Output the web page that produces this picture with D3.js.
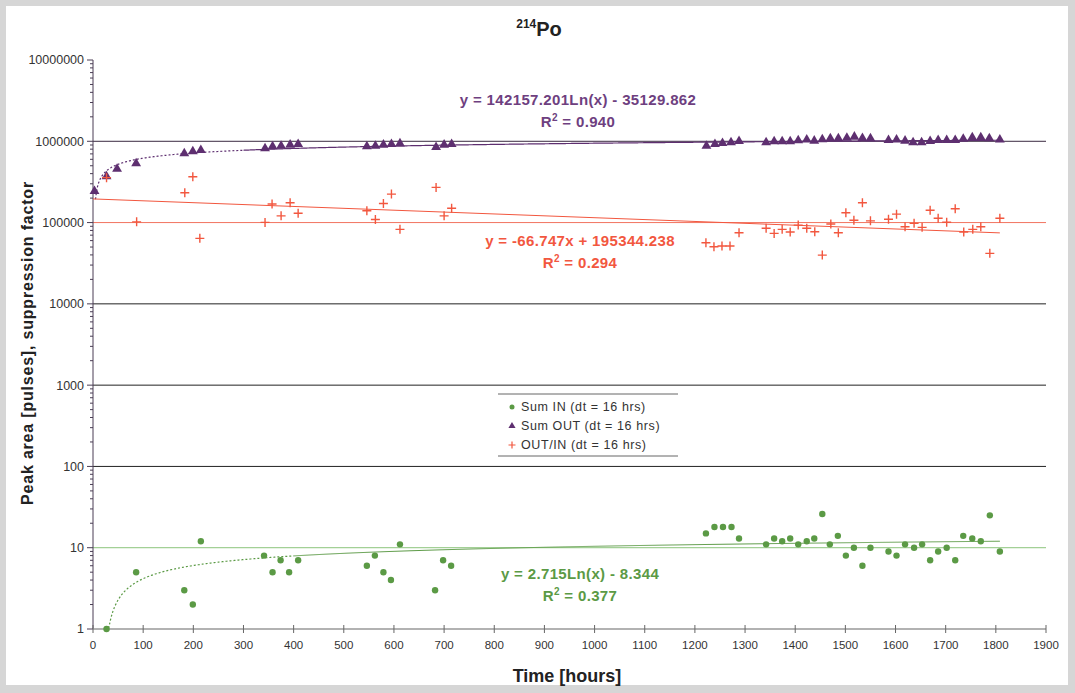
<!DOCTYPE html>
<html>
<head>
<meta charset="utf-8">
<script src="https://cdn.jsdelivr.net/npm/d3@7"></script>
<style>
  body { margin: 0; background: #fff; }
  svg text { font-family: "Liberation Sans", Arial, sans-serif; }
</style>
</head>
<body>
<svg id="chart" width="1075" height="693"></svg>
<script>
// Sum OUT (dt = 16 hrs)
const outX = [3, 27, 48, 86, 182, 199, 215, 343, 358, 375, 393, 409, 546, 563, 579, 595, 612, 684, 700, 715,
  1223, 1240, 1255, 1272, 1288, 1342, 1358, 1374, 1390, 1406, 1423, 1438, 1454, 1470, 1486, 1503, 1518, 1534, 1550,
  1586, 1602, 1619, 1635, 1652, 1669, 1685, 1702, 1719, 1735, 1753, 1770, 1787, 1808];
const outY = [237000, 360000, 443000, 520000, 690000, 730000, 757000, 795000, 840000, 855000, 880000, 898000,
  840000, 850000, 880000, 898000, 912000, 825000, 880000, 898000,
  855000, 898000, 923000, 942000, 977000, 942000, 968000, 968000, 968000, 994000, 1015000, 986000, 1022000, 1052000,
  1052000, 1072000, 1104000, 1064000, 1052000, 1005000, 1015000, 986000, 942000, 942000, 977000, 1005000, 1005000,
  1005000, 1042000, 1084000, 1084000, 1052000, 1015000];

// OUT/IN (dt = 16 hrs)
const ratioX = [27, 87, 183, 199, 213, 343, 357, 375, 393, 409, 546, 563, 579, 595, 612, 684, 700, 715,
  1222, 1238, 1254, 1270, 1288, 1342, 1358, 1374, 1390, 1406, 1423, 1439, 1454, 1471, 1486, 1501, 1517, 1534, 1550,
  1586, 1602, 1619, 1637, 1653, 1669, 1685, 1702, 1719, 1736, 1754, 1770, 1788, 1808];
const ratioY = [357000, 102000, 233000, 366000, 64000, 100500, 169000, 121000, 175000, 130000, 140000, 109000,
  172000, 224000, 82500, 271000, 121000, 150000,
  56400, 50400, 51400, 51400, 75000, 85000, 73600, 82500, 76400, 93100, 85000, 77000, 39800, 95900, 75000,
  132000, 107000, 175000, 105000, 110000, 127000, 88900, 97800, 87300, 142000, 113000, 101000, 148000,
  76400, 82500, 88900, 41800, 113000];

// Sum IN (dt = 16 hrs)
const inX = [27, 86, 182, 199, 215, 341, 358, 374, 391, 409, 546, 562, 579, 594, 612, 682, 698, 714,
  1222, 1239, 1256, 1273, 1288, 1342, 1358, 1374, 1390, 1406, 1423, 1438, 1454, 1469, 1485, 1501, 1517, 1534, 1550,
  1586, 1602, 1619, 1637, 1653, 1669, 1685, 1702, 1719, 1735, 1753, 1770, 1788, 1808];
const inY = [1, 5, 3, 2, 12, 8, 5, 7, 5, 7, 6, 8, 5, 4, 11, 3, 7, 6,
  15, 18, 18, 18, 13, 11, 13, 12, 13, 11, 12, 13, 26, 11, 14, 8, 10, 6, 10,
  9, 8, 11, 10, 11, 7, 9, 10, 7, 14, 13, 12, 25, 9];

// trendline coefficients as printed on the chart
const outFit = [142157.201, -35129.862];
const ratioFit = [-66.747, 195344.238];
const inFit = [2.715, -8.344];

const xTicks = d3.range(0, 2000, 100);
const yTicks = [1, 10, 100, 1000, 10000, 100000, 1000000, 10000000];
const legendLabels = ["Sum IN (dt = 16 hrs)", "Sum OUT (dt = 16 hrs)", "OUT/IN (dt = 16 hrs)"];

const purple = "#5e2f70", red = "#f2573f", green = "#5b9a45";

const svg = d3.select("#chart");
const W = 1075, H = 693;

// frame
svg.append("rect").attr("width", W).attr("height", H).attr("fill", "#d6d6d6");
svg.append("rect").attr("x", 6).attr("y", 6).attr("width", W - 13).attr("height", H - 14).attr("fill", "#fff");

const x = d3.scaleLinear().domain([0, 1900]).range([93, 1046]);
const y = d3.scaleLog().domain([1, 10000000]).range([629, 60]);

// horizontal grid lines
const gridColor = {10: "#8cc47c", 100000: "#f2745f", 1000000: "#3a2a40"};
svg.append("g").selectAll("line")
  .data(yTicks.filter(d => d > 1 && d < 10000000))
  .join("line")
    .attr("x1", x(0)).attr("x2", x(1900))
    .attr("y1", d => y(d)).attr("y2", d => y(d))
    .attr("stroke", d => gridColor[d] || "#222")
    .attr("stroke-width", 1);

// y axis
const yAxis = svg.append("g").attr("transform", `translate(${x(0)},0)`);
yAxis.append("line").attr("y1", y(1)).attr("y2", y(10000000)).attr("stroke", "#4a3d55");
const minor = [];
yTicks.slice(0, -1).forEach(d => { for (let k = 2; k < 10; k++) minor.push(d * k); });
yAxis.selectAll(".minor").data(minor).join("line")
  .attr("x1", -3).attr("x2", 0)
  .attr("y1", d => y(d)).attr("y2", d => y(d))
  .attr("stroke", "#4a3d55");
yAxis.selectAll(".major").data(yTicks).join("line")
  .attr("x1", -6).attr("x2", 0)
  .attr("y1", d => y(d)).attr("y2", d => y(d))
  .attr("stroke", "#4a3d55");
yAxis.selectAll("text").data(yTicks).join("text")
  .attr("x", -9).attr("y", d => y(d)).attr("dy", "0.35em")
  .attr("text-anchor", "end")
  .attr("font-size", 12.5).attr("fill", "#333")
  .text(d => d);

// x axis
const xAxis = svg.append("g").attr("transform", `translate(0,${y(1)})`);
xAxis.append("line").attr("x1", x(0)).attr("x2", x(1900)).attr("stroke", "#999").attr("stroke-width", 1.5);
xAxis.selectAll(".tk").data(xTicks).join("line")
  .attr("x1", d => x(d)).attr("x2", d => x(d))
  .attr("y1", -4).attr("y2", 4)
  .attr("stroke", "#666");
xAxis.selectAll("text").data(xTicks).join("text")
  .attr("x", d => x(d)).attr("y", 20)
  .attr("text-anchor", "middle")
  .attr("font-size", 11.5).attr("fill", "#333")
  .attr("font-family", "'Liberation Sans Narrow', 'Liberation Sans', sans-serif")
  .text(d => d);

// trendlines (early part drawn dotted like the source rendering)
const sample = (a, b) => d3.range(a, b + 0.5, 2);
const lnLine = d3.line().x(d => x(d[0])).y(d => y(d[1]));
const outCurve = t => [t, outFit[0] * Math.log(t) + outFit[1]];

svg.append("path")
  .datum(sample(5, 300).map(outCurve))
  .attr("d", lnLine).attr("fill", "none").attr("stroke", purple).attr("stroke-width", 1.2)
  .attr("stroke-dasharray", "2,2");
svg.append("path")
  .datum(sample(300, 1808).map(outCurve))
  .attr("d", lnLine).attr("fill", "none").attr("stroke", purple).attr("stroke-width", 1.2);

svg.append("path")
  .datum([0, 1808].map(t => [t, ratioFit[0] * t + ratioFit[1]]))
  .attr("d", lnLine).attr("fill", "none").attr("stroke", red).attr("stroke-width", 1);

const inStart = Math.exp((0 - inFit[1]) / inFit[0]);
const inCurve = t => [t, Math.max(1, inFit[0] * Math.log(t) + inFit[1])];
svg.append("path")
  .datum([inStart].concat(sample(32, 400)).map(inCurve))
  .attr("d", lnLine).attr("fill", "none").attr("stroke", green).attr("stroke-width", 1.2)
  .attr("stroke-dasharray", "2,2");
svg.append("path")
  .datum(sample(400, 1808).map(inCurve))
  .attr("d", lnLine).attr("fill", "none").attr("stroke", green).attr("stroke-width", 1);

// markers
const tri = d3.symbol().type(d3.symbolTriangle).size(42);
svg.append("g").selectAll("path")
  .data(outX.map((t, i) => [t, outY[i]]))
  .join("path")
    .attr("d", tri)
    .attr("transform", d => `translate(${x(d[0])},${y(d[1]) - 1})`)
    .attr("fill", purple);

svg.append("g").selectAll("path")
  .data(ratioX.map((t, i) => [t, ratioY[i]]))
  .join("path")
    .attr("d", "M-4.5,0H4.5M0,-4.5V4.5")
    .attr("transform", d => `translate(${x(d[0])},${y(d[1])})`)
    .attr("stroke", red).attr("stroke-width", 1.4).attr("fill", "none");

svg.append("g").selectAll("circle")
  .data(inX.map((t, i) => [t, inY[i]]))
  .join("circle")
    .attr("cx", d => x(d[0])).attr("cy", d => y(d[1]))
    .attr("r", 3.2)
    .attr("fill", green);

// equations
function equation(cx, cy, color, eq, r2) {
  const g = svg.append("g").attr("fill", color).attr("font-weight", "bold").attr("font-size", 15)
    .attr("letter-spacing", "0.35").attr("text-anchor", "middle");
  g.append("text").attr("x", cx).attr("y", cy).text(eq);
  const t = g.append("text").attr("x", cx).attr("y", cy + 22);
  t.append("tspan").text("R");
  t.append("tspan").attr("font-size", 10).attr("dy", -6).text("2");
  t.append("tspan").attr("dy", 6).text(" = " + r2);
}
equation(578, 105, "#6e3f80", "y = 142157.201Ln(x) - 35129.862", "0.940");
equation(580, 246, red, "y = -66.747x + 195344.238", "0.294");
equation(580, 579, green, "y = 2.715Ln(x) - 8.344", "0.377");

// legend
const leg = svg.append("g").attr("transform", "translate(498,394)");
leg.append("line").attr("x1", 0).attr("x2", 180).attr("y1", 0).attr("y2", 0).attr("stroke", "#666");
leg.append("line").attr("x1", 0).attr("x2", 180).attr("y1", 62).attr("y2", 62).attr("stroke", "#666");
const legRows = leg.selectAll("g").data(legendLabels).join("g")
  .attr("transform", (d, i) => `translate(0,${13 + i * 19})`);
legRows.append("text").attr("x", 23).attr("dy", "0.35em")
  .attr("font-size", 12.5).attr("letter-spacing", "0.6").attr("fill", "#333").text(d => d);
legRows.filter((d, i) => i === 0).append("circle").attr("cx", 14).attr("r", 2.5).attr("fill", green);
legRows.filter((d, i) => i === 1).append("path").attr("d", d3.symbol().type(d3.symbolTriangle).size(22))
  .attr("transform", "translate(14,0)").attr("fill", purple);
legRows.filter((d, i) => i === 2).append("path").attr("d", "M-3.5,0H3.5M0,-3.5V3.5")
  .attr("transform", "translate(14,0)").attr("stroke", red).attr("stroke-width", 1.2);

// title
const title = svg.append("text").attr("x", 539).attr("y", 36).attr("text-anchor", "middle")
  .attr("font-weight", "bold").attr("fill", "#222");
title.append("tspan").attr("font-size", 12).attr("dy", -8).text("214");
title.append("tspan").attr("font-size", 20).attr("dy", 8).text("Po");

// axis titles
svg.append("text").attr("x", 567).attr("y", 682).attr("text-anchor", "middle")
  .attr("font-weight", "bold").attr("font-size", 18).attr("fill", "#222")
  .attr("font-family", "'Liberation Sans Narrow', 'Liberation Sans', sans-serif")
  .text("Time [hours]");
svg.append("text").attr("transform", "translate(33,343) rotate(-90)").attr("text-anchor", "middle")
  .attr("font-weight", "bold").attr("font-size", 16).attr("letter-spacing", "0.8").attr("fill", "#222")
  .text("Peak area [pulses], suppression factor");
</script>
</body>
</html>
